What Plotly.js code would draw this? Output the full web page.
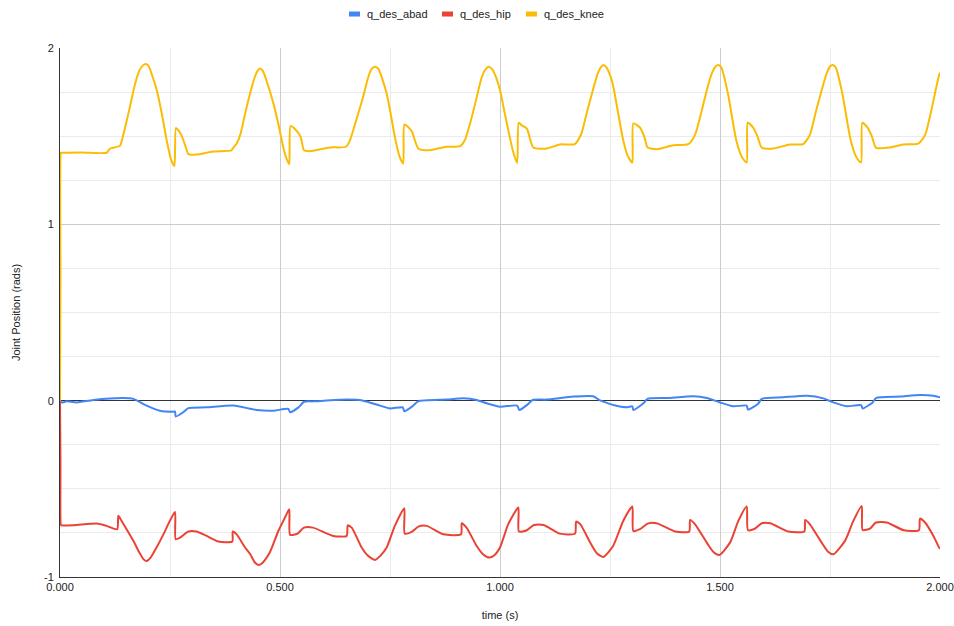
<!DOCTYPE html>
<html>
<head>
<meta charset="utf-8">
<script src="https://cdn.plot.ly/plotly-3.0.1.min.js"></script>
<style>html,body{margin:0;padding:0;background:#fff;}#chart{width:954px;height:626px;}</style>
</head>
<body>
<div id="chart"></div>
<script>
// time (s) and joint positions (rads)
const abadT = [0,0.004,0.015,0.038,0.076,0.144,0.1667,0.197,0.227,0.2576,0.2614,0.263,0.28,0.2917,0.333,0.394,0.447,0.485,0.519,0.523,0.542,0.5545,0.575,0.6515,0.689,0.727,0.75,0.779,0.7825,0.8,0.814,0.878,0.9167,0.947,0.97,1.0,1.039,1.044,1.064,1.074,1.106,1.1667,1.212,1.225,1.24,1.2576,1.288,1.3007,1.303,1.326,1.335,1.38,1.44,1.47,1.5,1.53,1.5606,1.5636,1.586,1.595,1.644,1.697,1.735,1.7575,1.788,1.8205,1.8242,1.847,1.8545,1.909,1.9545,1.985,2.0];
const abadQ = [0,-0.01,-0.004,-0.01,0.004,0.015,0.01,-0.028,-0.057,-0.0625,-0.062,-0.09,-0.066,-0.042,-0.038,-0.028,-0.053,-0.057,-0.047,-0.066,-0.038,-0.006,-0.004,0.006,0.0,-0.028,-0.044,-0.038,-0.06,-0.034,-0.004,0.006,0.013,0.004,-0.015,-0.034,-0.028,-0.053,-0.019,0.004,0.006,0.023,0.025,0.005,-0.01,-0.025,-0.038,-0.032,-0.053,-0.015,0.01,0.015,0.025,0.015,-0.01,-0.032,-0.028,-0.051,-0.019,0.01,0.019,0.028,0.013,-0.01,-0.032,-0.025,-0.044,-0.01,0.015,0.023,0.032,0.028,0.019];

const hipT = [0,0.001,0.002,0.003,0.03,0.0833,0.106,0.13,0.1326,0.14,0.1667,0.18,0.19,0.197,0.206,0.22,0.235,0.248,0.2614,0.263,0.273,0.2917,0.31,0.333,0.36,0.3917,0.3925,0.4015,0.42,0.4325,0.442,0.4508,0.46,0.477,0.4962,0.51,0.521,0.523,0.54,0.5545,0.575,0.621,0.6515,0.654,0.663,0.6856,0.70,0.716,0.728,0.7424,0.761,0.7825,0.7835,0.7993,0.8144,0.8333,0.871,0.9114,0.913,0.924,0.947,0.962,0.9758,0.988,1.0,1.019,1.0417,1.043,1.061,1.077,1.099,1.136,1.1705,1.173,1.182,1.205,1.22,1.235,1.257,1.28,1.3007,1.303,1.318,1.3356,1.356,1.398,1.43,1.432,1.443,1.47,1.485,1.4985,1.5227,1.5417,1.5606,1.5636,1.58,1.595,1.614,1.655,1.6917,1.6935,1.704,1.731,1.745,1.7576,1.784,1.803,1.822,1.8242,1.841,1.8545,1.879,1.918,1.952,1.9545,1.966,1.985,1.998,2.0];
const hipQ = [0,-0.35,-0.705,-0.706,-0.707,-0.697,-0.71,-0.729,-0.653,-0.682,-0.795,-0.86,-0.9,-0.909,-0.89,-0.83,-0.758,-0.69,-0.631,-0.786,-0.777,-0.742,-0.742,-0.767,-0.799,-0.799,-0.742,-0.758,-0.83,-0.871,-0.915,-0.932,-0.92,-0.86,-0.739,-0.67,-0.616,-0.761,-0.754,-0.72,-0.72,-0.767,-0.767,-0.707,-0.72,-0.833,-0.88,-0.903,-0.88,-0.833,-0.71,-0.61,-0.754,-0.744,-0.714,-0.71,-0.758,-0.758,-0.695,-0.72,-0.824,-0.872,-0.89,-0.875,-0.833,-0.699,-0.606,-0.742,-0.735,-0.705,-0.705,-0.754,-0.754,-0.686,-0.699,-0.805,-0.865,-0.886,-0.824,-0.682,-0.6,-0.739,-0.729,-0.697,-0.695,-0.742,-0.742,-0.676,-0.7,-0.805,-0.858,-0.875,-0.805,-0.682,-0.6,-0.735,-0.725,-0.695,-0.695,-0.742,-0.742,-0.676,-0.7,-0.805,-0.855,-0.871,-0.795,-0.682,-0.597,-0.733,-0.725,-0.691,-0.691,-0.735,-0.735,-0.669,-0.691,-0.767,-0.833,-0.84];

const kneeT = [0,0.001,0.002,0.003,0.05,0.106,0.114,0.136,0.142,0.150,0.159,0.170,0.180,0.188,0.195,0.202,0.210,0.220,0.232,0.2424,0.252,0.260,0.2635,0.270,0.276,0.2856,0.2917,0.31,0.348,0.390,0.3925,0.4015,0.41,0.42,0.432,0.442,0.449,0.4545,0.461,0.470,0.485,0.497,0.508,0.516,0.521,0.524,0.535,0.547,0.5545,0.568,0.6136,0.65,0.659,0.672,0.689,0.700,0.708,0.716,0.724,0.7424,0.752,0.761,0.771,0.78,0.7825,0.79,0.8,0.8144,0.84,0.878,0.909,0.92,0.935,0.947,0.958,0.966,0.974,0.982,0.99,1.0,1.01,1.02,1.03,1.039,1.0425,1.05,1.061,1.0758,1.106,1.136,1.17,1.185,1.198,1.211,1.222,1.229,1.235,1.242,1.251,1.2576,1.28,1.29,1.3007,1.303,1.318,1.328,1.3356,1.356,1.394,1.428,1.443,1.458,1.47,1.482,1.49,1.496,1.503,1.518,1.537,1.55,1.5606,1.563,1.575,1.585,1.595,1.621,1.659,1.689,1.704,1.718,1.731,1.743,1.75,1.756,1.763,1.778,1.797,1.81,1.8205,1.8235,1.835,1.845,1.8545,1.886,1.916,1.9507,1.966,1.978,1.99,1.998,2.0];
const kneeQ = [0,0.7,1.405,1.406,1.408,1.406,1.43,1.445,1.49,1.57,1.667,1.79,1.87,1.90,1.909,1.895,1.84,1.761,1.62,1.477,1.37,1.331,1.547,1.53,1.506,1.44,1.398,1.396,1.413,1.42,1.43,1.458,1.51,1.62,1.742,1.83,1.87,1.884,1.87,1.81,1.686,1.56,1.43,1.365,1.341,1.557,1.538,1.496,1.42,1.415,1.436,1.44,1.477,1.58,1.723,1.83,1.88,1.894,1.88,1.742,1.62,1.496,1.39,1.345,1.566,1.555,1.525,1.43,1.42,1.44,1.443,1.477,1.60,1.72,1.83,1.875,1.894,1.88,1.84,1.76,1.64,1.52,1.41,1.348,1.576,1.56,1.543,1.436,1.43,1.453,1.455,1.515,1.64,1.761,1.855,1.89,1.903,1.89,1.84,1.78,1.477,1.39,1.35,1.572,1.549,1.496,1.436,1.426,1.449,1.455,1.506,1.64,1.761,1.86,1.895,1.903,1.89,1.742,1.477,1.38,1.35,1.576,1.55,1.50,1.434,1.43,1.453,1.455,1.506,1.64,1.761,1.86,1.895,1.903,1.89,1.742,1.477,1.38,1.35,1.576,1.55,1.50,1.434,1.436,1.453,1.458,1.506,1.62,1.76,1.847,1.86];

const seriesNames = ['q_des_abad','q_des_hip','q_des_knee'];
const xTickVals = [0,0.5,1.0,1.5,2.0];
const xTickText = ['0.000','0.500','1.000','1.500','2.000'];
const yTickVals = [-1,0,1,2];
const yTickText = ['-1','0','1','2'];

const colors = ['#4285F4','#EA4335','#FBBC04'];
const xs = [abadT, hipT, kneeT];
const ys = [abadQ, hipQ, kneeQ];

const traces = seriesNames.map((n,i)=>({
  x: xs[i], y: ys[i], name: n, type: 'scatter', mode: 'lines', showlegend: false,
  line: {color: colors[i], width: 2, shape: 'spline', smoothing: 0.6}, hoverinfo: 'x+y'
}));

const font = {family: 'Arial, "Liberation Sans", sans-serif', size: 11, color: '#222222'};

// custom top legend (Google-Sheets style short bars), positions in paper fractions
const legendSwatchX = [0.3284, 0.4341, 0.5295];
const swW = 0.0125, swY0 = 1.0595, swY1 = 1.069, labelDx = 0.0193, labelY = 1.0643;
const shapes = [], annotations = [];
seriesNames.forEach((n,i)=>{
  shapes.push({type: 'rect', xref: 'paper', yref: 'paper', x0: legendSwatchX[i], x1: legendSwatchX[i] + swW,
               y0: swY0, y1: swY1, fillcolor: colors[i], line: {width: 0}});
  annotations.push({xref: 'paper', yref: 'paper', x: legendSwatchX[i] + labelDx, y: labelY, xanchor: 'left', yanchor: 'middle',
                    text: n, showarrow: false, font: {family: font.family, size: 11, color: '#222222'}, borderpad: 0});
});

const layout = {
  width: 954, height: 626,
  margin: {l: 60, r: 14, t: 48, b: 49, pad: 0, autoexpand: false},
  paper_bgcolor: '#ffffff', plot_bgcolor: '#ffffff',
  font: font,
  showlegend: false,
  shapes: shapes,
  annotations: annotations,
  xaxis: {
    range: [0, 2.0], tickvals: xTickVals, ticktext: xTickText,
    showgrid: true, gridcolor: '#cccccc', gridwidth: 1,
    minor: {dtick: 0.25, tick0: 0, showgrid: true, gridcolor: '#ebebeb', gridwidth: 1, ticklen: 0},
    showline: true, linecolor: '#333333', linewidth: 1,
    zeroline: false, ticks: '', ticklen: 0,
    tickfont: {family: font.family, size: 11, color: '#222222'},
    title: {text: 'time (s)', font: {family: font.family, size: 11, color: '#222222'}, standoff: 19},
    automargin: false
  },
  yaxis: {
    range: [-1, 2], tickvals: yTickVals, ticktext: yTickText,
    showgrid: true, gridcolor: '#cccccc', gridwidth: 1,
    minor: {dtick: 0.25, tick0: 0, showgrid: true, gridcolor: '#ebebeb', gridwidth: 1, ticklen: 0},
    showline: true, linecolor: '#333333', linewidth: 1,
    zeroline: true, zerolinecolor: '#333333', zerolinewidth: 1,
    ticks: '', ticklen: 0, ticklabelstandoff: 3,
    tickfont: {family: font.family, size: 11, color: '#222222'},
    title: {text: 'Joint Position (rads)', font: {family: font.family, size: 11, color: '#222222'}, standoff: 21},
    automargin: false
  }
};

Plotly.newPlot('chart', traces, layout, {displayModeBar: false, staticPlot: true});
</script>
</body>
</html>
